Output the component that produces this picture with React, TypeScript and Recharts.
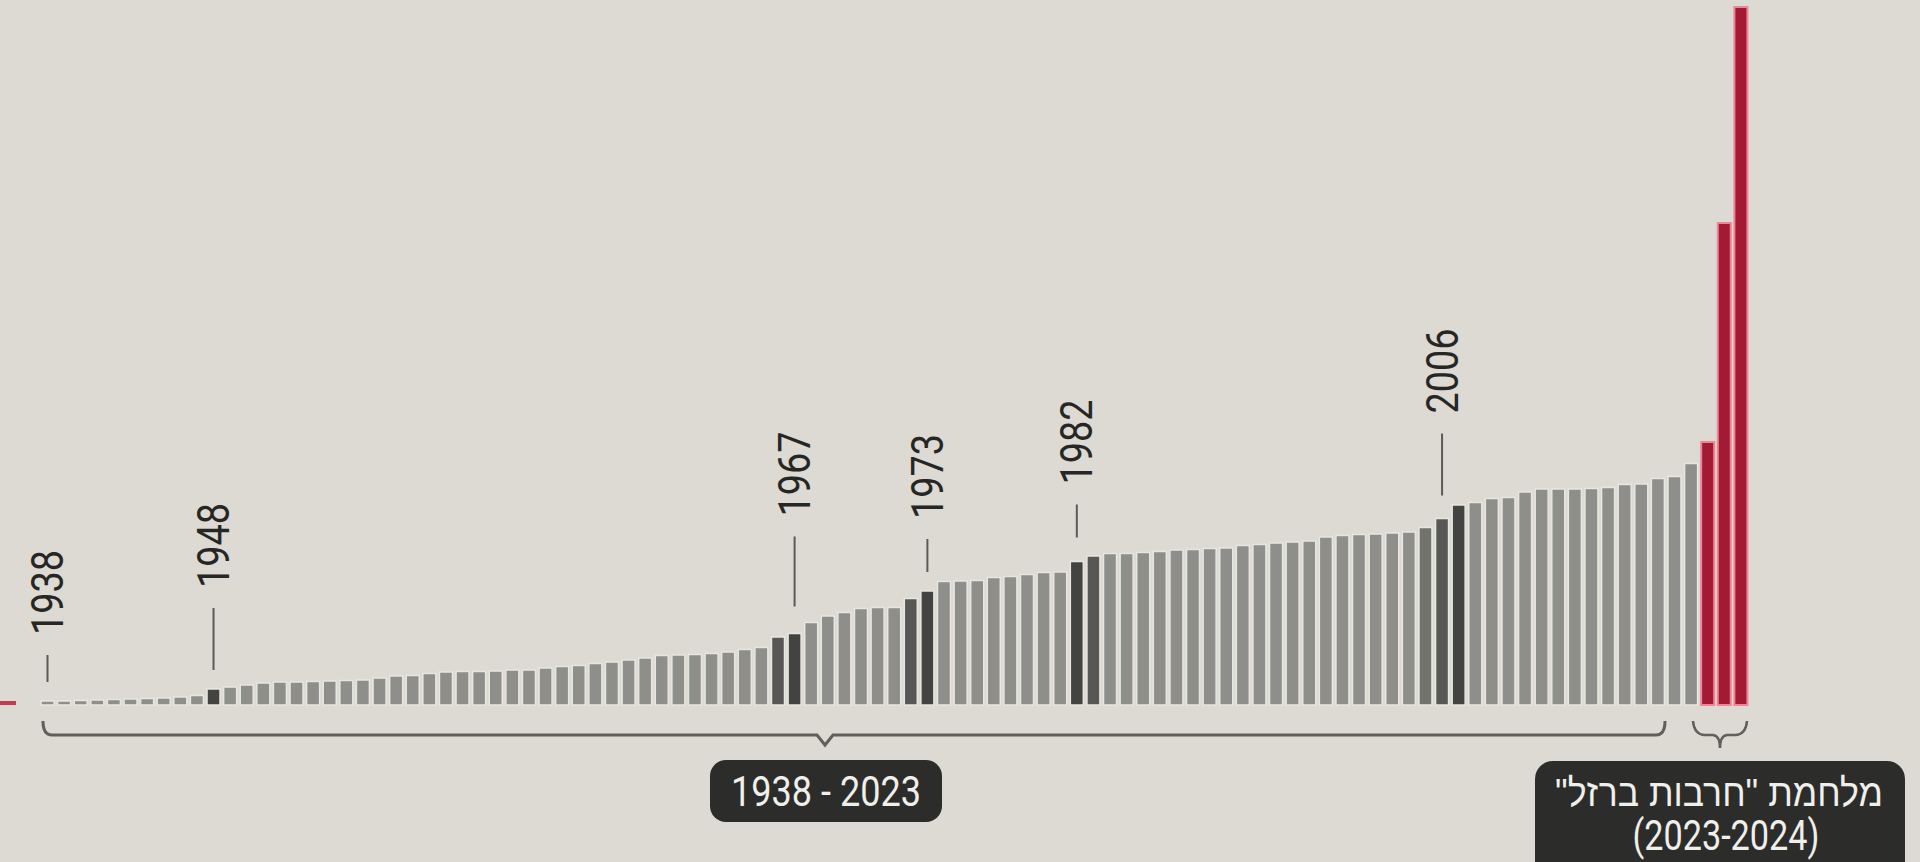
import { BarChart, Bar, XAxis, YAxis, Cell, LabelList } from "recharts";

// estimated bar heights (arbitrary units, no axis shown)
const greyValues = [
  4, 4, 4.5, 5, 5.5, 6, 6.5, 7, 8, 9.5,
  16, 18, 20, 22, 23, 23, 23.5, 24, 24.5, 25,
  27, 29, 29.5, 31.5, 33, 33.5, 33.5, 34, 35, 35,
  37, 38.5, 39.5, 41.5, 43, 45, 47, 49.5, 50, 50.5,
  51.5, 53, 55.5, 57.5, 68, 71.5, 82.5, 89, 92.5, 96.5,
  97.5, 97.5, 106.5, 114, 123.5, 124, 124.5, 127.5, 128.5, 130.5,
  132.5, 133, 143.5, 149, 151.5, 151.5, 152.5, 153.5, 155, 155.5,
  156.5, 157, 159.5, 160.5, 162, 163, 164, 168, 169.5, 170.5,
  171, 172, 173, 177.5, 186.5, 200, 202.5, 206.5, 207.5, 213,
  216, 216, 216, 216.5, 217.5, 220.5, 221, 226.5, 228.5, 241.5,
];
const warValues = [263, 482, 698];

const markerYears = ["1938", "1948", "1967", "1973", "1982", "2006"];
const markerBars = [0, 10, 45, 53, 62, 84];
// gap above the bar and length of the little tick line, per marker
const markerLines = [
  [19, 27],
  [19, 62],
  [27, 70],
  [19, 33],
  [24, 33],
  [23, 62],
];

const darkBars = [10, 45, 53, 62, 85];
const midBars = [44, 52, 63, 84];
const softBars = [83];

const data = [
  ...greyValues.map((v, i) => ({
    id: `b${i}`,
    value: v,
    kind: darkBars.includes(i)
      ? "dark"
      : midBars.includes(i)
        ? "mid"
        : softBars.includes(i)
          ? "soft"
          : "grey",
    marker: markerBars.includes(i)
      ? markerYears[markerBars.indexOf(i)]
      : undefined,
  })),
  ...warValues.map((v, i) => ({
    id: `w${i}`,
    value: v,
    kind: "war",
    marker: undefined,
  })),
];

const fills: Record<string, string> = {
  grey: "#8e8e8a",
  soft: "#72726f",
  mid: "#575755",
  dark: "#434341",
  war: "#a21a33",
};

const renderMarker = (p: any) => {
  const { x, y, width, value } = p;
  if (!value) return null;
  const i = markerYears.indexOf(String(value));
  if (i < 0) return null;
  const [gap, len] = markerLines[i];
  const cx = x + width / 2;
  const lineBottom = y - gap;
  const lineTop = lineBottom - len;
  const textStart = lineTop - 20;
  return (
    <g>
      <line
        x1={cx}
        x2={cx}
        y1={lineTop}
        y2={lineBottom}
        stroke="#5a5a57"
        strokeWidth={2}
      />
      <text
        transform={`translate(${cx + 15.5}, ${textStart}) rotate(-90)`}
        fontSize={44}
        fontFamily="Roboto, sans-serif"
        textLength={85}
        lengthAdjust="spacingAndGlyphs"
        fill="#262624"
      >
        {value}
      </text>
    </g>
  );
};

export default function App() {
  return (
    <div
      style={{
        position: "relative",
        width: 1920,
        height: 862,
        overflow: "hidden",
        background: "#dcdad2",
      }}
    >
      <style>{"body{margin:0}"}</style>
      <BarChart
        width={1920}
        height={862}
        data={data}
        margin={{ top: 7, right: 171, bottom: 157, left: 39 }}
        barCategoryGap={2}
      >
        <XAxis dataKey="id" hide />
        <YAxis hide domain={[0, 698]} />
        <Bar dataKey="value" isAnimationActive={false}>
          {data.map((d) => (
            <Cell
              key={d.id}
              fill={fills[d.kind]}
              stroke={d.kind === "war" ? "#f08394" : "#e8e6e0"}
              strokeWidth={d.kind === "war" ? 2 : 1.5}
            />
          ))}
          <LabelList dataKey="marker" content={renderMarker} />
        </Bar>
      </BarChart>

      <svg
        width={1920}
        height={862}
        style={{ position: "absolute", left: 0, top: 0, pointerEvents: "none" }}
      >
        <rect x={0} y={701} width={16} height={4} fill="#c23a50" />

        <path
          d="M43 721 Q43 735 52 735 L817 735 L825 745 L833 735 L1656 735 Q1665 735 1665 721"
          fill="none"
          stroke="#5f5f5b"
          strokeWidth={3}
        />
        <path
          d="M1693 721 Q1694 734 1704 735 L1713 735 Q1720 736 1720 748 Q1720 736 1727 735 L1736 735 Q1746 734 1747 721"
          fill="none"
          stroke="#5f5f5b"
          strokeWidth={2.5}
        />

        <rect x={710} y={760} width={232} height={62} rx={16} fill="#2c2c2a" />
        <text
          x={826}
          y={806}
          textAnchor="middle"
          fontSize={42}
          fontFamily="Roboto, sans-serif"
          textLength={190}
          lengthAdjust="spacingAndGlyphs"
          fill="#efefeb"
        >
          1938 - 2023
        </text>

        <rect x={1535} y={761} width={370} height={140} rx={18} fill="#2c2c2a" />
        <text
          x={1719}
          y={806}
          textAnchor="middle"
          direction="rtl"
          fontSize={39}
          fontFamily="'Liberation Sans', 'DejaVu Sans', sans-serif"
          textLength={328}
          lengthAdjust="spacingAndGlyphs"
          fill="#efefeb"
        >
          מלחמת "חרבות ברזל"
        </text>
        <text
          x={1726}
          y={850}
          textAnchor="middle"
          fontSize={42}
          fontFamily="Roboto, sans-serif"
          textLength={187}
          lengthAdjust="spacingAndGlyphs"
          fill="#efefeb"
        >
          (2023-2024)
        </text>
      </svg>
    </div>
  );
}
